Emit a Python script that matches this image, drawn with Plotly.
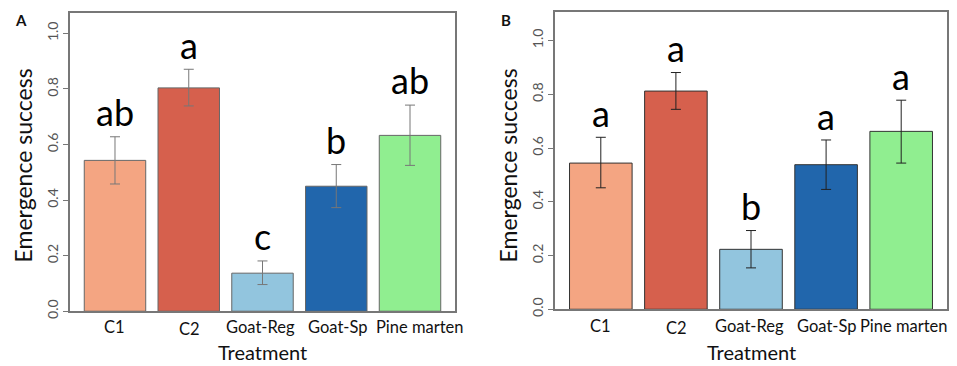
import plotly.graph_objects as go

categories = ["C1", "C2", "Goat-Reg", "Goat-Sp", "Pine marten"]
colors = ["#F4A582", "#D6604D", "#92C5DE", "#2166AC", "#90EE90"]

# Panel A
a_mean = [0.543, 0.804, 0.137, 0.450, 0.633]
a_upper = [0.628, 0.871, 0.181, 0.528, 0.742]
a_lower = [0.458, 0.739, 0.096, 0.373, 0.525]
a_letters = ["ab", "a", "c", "b", "ab"]

# Panel B
b_mean = [0.544, 0.812, 0.223, 0.538, 0.662]
b_upper = [0.640, 0.881, 0.293, 0.630, 0.778]
b_lower = [0.452, 0.744, 0.154, 0.446, 0.544]
b_letters = ["a", "a", "b", "a", "a"]

yticks = [0.0, 0.2, 0.4, 0.6, 0.8, 1.0]
ytick_text = ["0.0", "0.2", "0.4", "0.6", "0.8", "1.0"]

W, H = 957, 366
FONT = "Lato"

fig = go.Figure()

panels = [
    dict(mean=a_mean, up=a_upper, lo=a_lower, let=a_letters, xa="x", ya="y",
         outline="#666666", err="#777777", label="A",
         lab_dx=[0, 1, -2, 1, 10], lab_dy=[-16, -18, -16, -16, -16]),
    dict(mean=b_mean, up=b_upper, lo=b_lower, let=b_letters, xa="x2", ya="y2",
         outline="#333333", err="#222222", label="B",
         lab_dx=[0, 1, -2, 0, 3], lab_dy=[-17, -19, -17, -17, -17]),
]

for p in panels:
    fig.add_trace(go.Bar(
        x=categories, y=p["mean"], xaxis=p["xa"], yaxis=p["ya"],
        marker=dict(color=colors, line=dict(color=p["outline"], width=1)),
        error_y=dict(type="data", symmetric=False,
                     array=[u - m for u, m in zip(p["up"], p["mean"])],
                     arrayminus=[m - l for m, l in zip(p["mean"], p["lo"])],
                     color=p["err"], thickness=1, width=5),
        showlegend=False, hoverinfo="skip",
    ))
    for c, u, t in zip(categories, p["up"], p["let"]):
        fig.add_annotation(x=c, y=u + 0.035, xref=p["xa"], yref=p["ya"], text=t,
                           showarrow=False, xanchor="center", yanchor="bottom", yshift=-9,
                           font=dict(family=FONT, size=36, color="#000000"))
    # category labels below the bars
    for c, sx, sy in zip(categories, p["lab_dx"], p["lab_dy"]):
        fig.add_annotation(x=c, y=0, xref=p["xa"], yref=p["ya"], text=c,
                           showarrow=False, xanchor="center", yanchor="middle",
                           xshift=sx, yshift=sy,
                           font=dict(family=FONT, size=16.5, color="#111111"))

# domains in pixels
A_x = (62, 447); A_y = (5, 310)
B_x = (547, 939); B_y = (4, 308)

def dx(a): return [a[0] / W, a[1] / W]
def dy(a): return [(H - a[1]) / H, (H - a[0]) / H]

axis_common_x = dict(type="category", range=[-0.61, 4.61], showline=True, mirror=True,
                     linecolor="#777777", linewidth=1.5, ticks="", showgrid=False,
                     showticklabels=False,
                     zeroline=False, fixedrange=True)
axis_common_y = dict(showline=True, mirror=True, linecolor="#777777", linewidth=1.5,
                     ticks="outside", ticklen=5, tickcolor="#777777", showgrid=False,
                     tickvals=yticks, ticktext=ytick_text, tickangle=-90,
                     tickfont=dict(family=FONT, size=14, color="#555555"),
                     zeroline=False, fixedrange=True)

fig.update_layout(
    width=W, height=H, margin=dict(l=0, r=0, t=0, b=0),
    paper_bgcolor="white", plot_bgcolor="white",
    bargap=1 - 1 / 1.2,
    xaxis=dict(domain=dx(A_x), anchor="y", **axis_common_x),
    yaxis=dict(domain=dy(A_y), anchor="x", range=[0, (310 - 5) / 284.0], **axis_common_y),
    xaxis2=dict(domain=dx(B_x), anchor="y2", **axis_common_x),
    yaxis2=dict(domain=dy(B_y), anchor="x2", range=[0, (308.3 - 4) / 275.0], **axis_common_y),
)

# axis titles and panel labels as annotations
for xr, yc, lab, px in [(A_x, A_y, "A", 13), (B_x, B_y, "B", 498)]:
    cx = (xr[0] + xr[1]) / 2
    fig.add_annotation(x=cx / W, y=(H - 352) / H, xref="paper", yref="paper",
                       text="Treatment", showarrow=False, xanchor="center", yanchor="middle",
                       font=dict(family=FONT, size=20, color="#111111"))
    fig.add_annotation(x=px / W, y=(H - 12) / H, xref="paper", yref="paper",
                       text="<b>" + lab + "</b>", showarrow=False,
                       xanchor="center", yanchor="middle",
                       font=dict(family=FONT, size=15, color="#111111"))
    fig.add_annotation(x=(xr[0] - 47) / W, y=(H - 161) / H, xref="paper", yref="paper",
                       text="Emergence success", textangle=-90, showarrow=False,
                       xanchor="center", yanchor="middle",
                       font=dict(family=FONT, size=23, color="#111111"))

fig.write_html("out.html")
